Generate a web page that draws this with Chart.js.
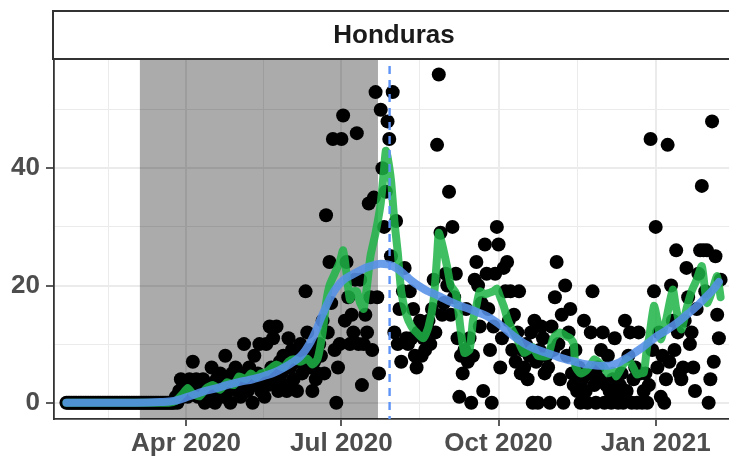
<!DOCTYPE html>
<html><head><meta charset="utf-8">
<script src="https://cdn.jsdelivr.net/npm/chart.js@4.4.1/dist/chart.umd.min.js"></script>
<style>html,body{margin:0;padding:0;background:#fff;overflow:hidden;width:729px;height:456px}#wrap{width:741px;height:456px;position:relative}</style>
</head><body><div id="wrap"><canvas id="c" width="741" height="456" style="width:741px;height:456px"></canvas></div>
<script>
// ---- data (x = days since 2020-01-22) ----
const panelTitle = 'Honduras';
const dailyDeaths = [
0,0,0,0,0,0,0,0,0,0, 0,0,0,0,0,0,0,0,0,0, 0,0,0,0,0,0,0,0,0,0,
0,0,0,0,0,0,0,0,0,0, 0,0,0,0,0,0,0,0,0,0, 0,0,0,0,0,0,0,0,0,0, 0,0,0,0,
1,0,2,4,1,3,2,1,4,3,
7,2,4,1,3,2,4,0,2,3,
1,6,2,0,4,2,5,3,1,8,
2,4,0,5,3,6,2,4,1,5,
10,3,2,6,4,0,8,3,5,10,
2,4,1,10,3,13,6,11,4,13,
2,7,5,8,3,2,11,6,9,4,
8,2,7,10,5,8,19,12,6,9,
2,7,4,5,10,8,14,5,32,12,
24,17,45,9,0,6,10,45,
49,14,24,18,10,15,12,21,46,10,
21,3,10,15,12,34,18,9,35,53,
18,5,50,40,30,36,48,45,25,53,
12,31,10,16,7,19,23,11,
10,19,11,16,8,6,12,14,8,11,
9,13,14,10,16,21,12,44,56,29,
15,17,22,20,36,15,30,18,22,11,
1,8,5,9,16,7,11,0,8,21,
24,20,13,17,2,27,22,16,9,0,
13,22,30,27,6,11,23,19,24,14,19,
9,15,7,12,19,5,9,6,10,4,
8,12,0,14,7,0,9,13,11,5,
8,6,0,13,9,18,24,10,4,15,
0,20,8,12,16,5,3,9,2,6,
0,4,14,2,0,5,12,19,3,0,
6,4,9,12,0,3,8,2,0,4,
11,1,0,3,5,0,14,2,8,12,
0,4,6,0,12,5,0,2,5,0,
3,45,9,19,30,6,12,1,8,0,
4,44,7,20,14,9,26,12,5,4,
6,14,23,18,10,12,6,2,16,22,
26,37,26,19,26,0,4,48,7,25,15,11,21
];
const rollingDays = [0,60,64,68,71,74,78,82,86,90,94,98,101,105,108,111,114,117,121,123,127,130,133,137,141,144,147,150,152,154,157,160,162,164,166,168,170,172,174,176,178,181,184,186,187,188,190,192,194,196,199,202,205,209,212,215,217,218,220,223,225,228,231,233,236,238,240,242,245,247,250,252,254,256,258,260,264,268,271,273,276,279,282,285,289,293,295,297,298,301,304,307,309,312,315,317,320,322,325,328,331,334,336,338,340,341,344,346,348,351,355,357,360,363,366,369,372,375,378,381,383];
const rollingVals = [0,0,0.3,1.5,2.5,1.5,1.1,2.5,3,2.2,3.5,3,4.5,4,5,4.3,5,5.2,6.2,6.5,6,7,7.4,7,7.5,6.5,7.5,12,17,20,22,24,26,22,17.6,19,19,17,16,20,25,29,34,40,43,42,38,31,25.6,19,15,13,12,11,13,17.6,25,29,27,23,20,18.7,12,8.5,9,14,16.5,19,18.5,18.7,19,19.5,18,16.5,14.5,13,10.8,8.5,9,9.5,8,7.9,8,11,12,11.3,11,10,6.2,5,5.4,6.5,7.4,6.8,6,5,5.5,4.5,6,7.4,6.5,4.8,5,5.1,9.6,10.8,16.5,14,10.8,14,19.3,16,12.5,16,19,21,23.3,17,19,21.6,18];
const smoothDays = [0,40,55,63,72,80,87,95,102,109,116,122,128,133,137,140,143,146,149,152,155,158,162,167,172,178,184,188,191,195,199,203,207,211,215,220,225,230,236,241,246,251,256,260,264,268,272,277,282,286,290,295,299,303,306,310,313,317,320,323,326,330,334,338,342,346,351,356,360,364,368,372,375,379,382];
const smoothVals = [0,0,0.1,0.3,1.1,1.9,2.4,3.1,3.6,4.0,4.6,5.2,6.1,7.0,7.9,9.0,10.4,12.2,14.4,16.4,18.2,19.6,20.9,21.8,22.6,23.3,23.7,23.6,23.3,22.6,21.6,20.6,19.8,19.1,18.6,17.9,17.2,16.6,16.0,15.4,14.8,13.9,12.8,11.8,10.9,10.1,9.5,8.9,8.4,8.0,7.6,7.2,6.9,6.6,6.5,6.35,6.3,6.3,6.5,6.8,7.3,8.0,8.8,9.6,10.5,11.4,12.3,13.3,14.2,15.2,16.2,17.3,18.2,19.4,20.6];
const majorXDays = [70,161,253,345];
const majorXLabels = ['Apr 2020','Jul 2020','Oct 2020','Jan 2021'];
const minorXDays = [24.5,115.5,207,299];
const majorY = [0,20,40];
const minorY = [10,30,50];
const shadedPeriod = [43, 182.4];
const markerDay = [189.2];

const FONT = '"Liberation Sans", Arial, Helvetica, sans-serif';

const decor = {
  id: 'decor',
  beforeDatasetsDraw(chart) {
    const {ctx, chartArea: a, scales: {x}} = chart;
    const x0 = x.getPixelForValue(shadedPeriod[0]);
    const x1 = x.getPixelForValue(shadedPeriod[1]);
    ctx.save();
    ctx.fillStyle = 'rgba(0,0,0,0.33)';
    ctx.fillRect(x0, a.top, x1 - x0, a.bottom - a.top);
    ctx.restore();
  },
  afterDatasetsDraw(chart) {
    const {ctx, chartArea: a, scales: {x}} = chart;
    ctx.save();
    ctx.strokeStyle = '#5E94F6';
    ctx.lineWidth = 2.4;
    ctx.setLineDash([8, 6]);
    markerDay.forEach(d => {
      const px = x.getPixelForValue(d);
      ctx.beginPath(); ctx.moveTo(px, a.top + 6); ctx.lineTo(px, a.bottom); ctx.stroke();
    });
    ctx.restore();
  },
  afterDraw(chart) {
    const {ctx, chartArea: a} = chart;
    ctx.save();
    ctx.fillStyle = '#fff';
    ctx.fillRect(a.left - 1, 11, a.right - a.left + 2, 48);
    ctx.strokeStyle = '#333';
    ctx.lineWidth = 2;
    ctx.strokeRect(a.left - 1, 11, a.right - a.left + 2, 48);
    ctx.fillStyle = '#1A1A1A';
    ctx.font = 'bold 26px ' + FONT;
    ctx.textAlign = 'center';
    ctx.textBaseline = 'middle';
    ctx.fillText(panelTitle, (a.left + a.right) / 2, 36);
    ctx.restore();
  }
};

const isMajorX = v => majorXDays.includes(v);
const isMajorY = v => majorY.includes(v);

const chart = new Chart(document.getElementById('c'), {
  type: 'line',
  data: {
    datasets: [
      {
        label: 'daily', data: dailyDeaths.map((v, i) => ({x: i, y: v})),
        showLine: false, pointRadius: 7, pointBackgroundColor: '#000', pointBorderWidth: 0,
        order: 3
      },
      {
        label: 'rolling', data: rollingDays.map((d, i) => ({x: d, y: rollingVals[i]})),
        borderColor: 'rgba(30,180,70,0.85)', borderWidth: 8, pointRadius: 0,
        tension: 0.2, borderJoinStyle: 'round', borderCapStyle: 'round', order: 2
      },
      {
        label: 'smooth', data: smoothDays.map((d, i) => ({x: d, y: smoothVals[i]})),
        borderColor: 'rgba(85,145,232,0.88)', borderWidth: 8, pointRadius: 0,
        cubicInterpolationMode: 'monotone', borderCapStyle: 'round', order: 1
      }
    ]
  },
  options: {
    responsive: false, animation: false, devicePixelRatio: 1,
    events: [],
    layout: {padding: {top: 60, right: 2, left: 0, bottom: 0}},
    plugins: {legend: {display: false}, tooltip: {enabled: false}},
    scales: {
      x: {
        type: 'linear', min: -7.3, max: 393.8,
        afterFit: s => { s.height = 37; },
        afterBuildTicks: s => { s.ticks = [...minorXDays, ...majorXDays].sort((a, b) => a - b).map(v => ({value: v})); },
        ticks: {
          autoSkip: false, maxRotation: 0, minRotation: 0, padding: 2,
          color: '#4D4D4D', font: {family: FONT, size: 26, weight: 'bold'},
          callback: v => { const i = majorXDays.indexOf(v); return i >= 0 ? majorXLabels[i] : ''; }
        },
        grid: {
          color: '#EBEBEB',
          lineWidth: c => (c.tick && isMajorX(c.tick.value)) ? 2 : 1,
          tickLength: 7, tickWidth: 1.6,
          tickColor: c => (c.tick && isMajorX(c.tick.value)) ? '#333' : 'rgba(0,0,0,0)'
        },
        border: {display: true, color: '#333', width: 1.8}
      },
      y: {
        min: -2.78, max: 58.5,
        afterFit: s => { s.width = 54; },
        afterBuildTicks: s => { s.ticks = [...majorY, ...minorY].sort((a, b) => a - b).map(v => ({value: v})); },
        ticks: {
          autoSkip: false, padding: 6,
          color: '#4D4D4D', font: {family: FONT, size: 26, weight: 'bold'},
          callback: v => isMajorY(v) ? String(v) : ''
        },
        grid: {
          color: '#EBEBEB',
          lineWidth: c => (c.tick && isMajorY(c.tick.value)) ? 2 : 1,
          tickLength: 8, tickWidth: 1.6,
          tickColor: c => (c.tick && isMajorY(c.tick.value)) ? '#333' : 'rgba(0,0,0,0)'
        },
        border: {display: true, color: '#333', width: 1.8}
      }
    }
  },
  plugins: [decor]
});

// Align scale ranges to the reference pixel anchors (Apr 1 2020 at x=186, 1.708 px/day; y=0 at 402.7, 5.86 px/unit)
(function align() {
  const a = chart.chartArea;
  const pxDay = 1.708, x0 = 186, pxUnit = 5.86, y0 = 402.7;
  chart.options.scales.x.min = 70 - (x0 - a.left) / pxDay;
  chart.options.scales.x.max = 70 + (a.right - x0) / pxDay;
  chart.options.scales.y.max = (y0 - a.top) / pxUnit;
  chart.options.scales.y.min = -(a.bottom - y0) / pxUnit;
  chart.update();
})();
</script></body></html>
